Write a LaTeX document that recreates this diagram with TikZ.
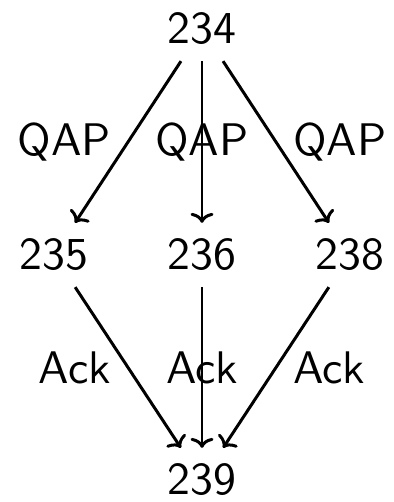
\documentclass[tikz,border=0pt]{standalone}
\usepackage{fontspec}
\usepackage{tikz}
\usetikzlibrary{arrows.meta}
\newfontfamily\statefont{lmsans10-regular.otf}

\begin{document}
\begin{tikzpicture}[x=0.02cm,y=-0.02cm,
    every node/.style={font=\fontsize{26}{31}\statefont,inner sep=9pt},
    msg/.style={line width=1.7pt,-{To[width=0.46cm,length=0.2cm]}}]
\useasboundingbox (0,0) rectangle (393,502);

% states
\node (s234) at (202,29) {234};
\node (s235) at (54,255) {235};
\node (s236) at (202,255) {236};
\node (s238) at (350,255) {238};
\node (s239) at (202,480) {239};

% requests
\draw[msg] (s234) -- node[left] {QAP} (s235);
\draw[msg] (s234) -- node {QAP} (s236);
\draw[msg] (s234) -- node[right] {QAP} (s238);

% replies
\draw[msg] (s235) -- node[left] {Ack} (s239);
\draw[msg] (s236) -- node {Ack} (s239);
\draw[msg] (s238) -- node[right] {Ack} (s239);

\end{tikzpicture}
\end{document}
